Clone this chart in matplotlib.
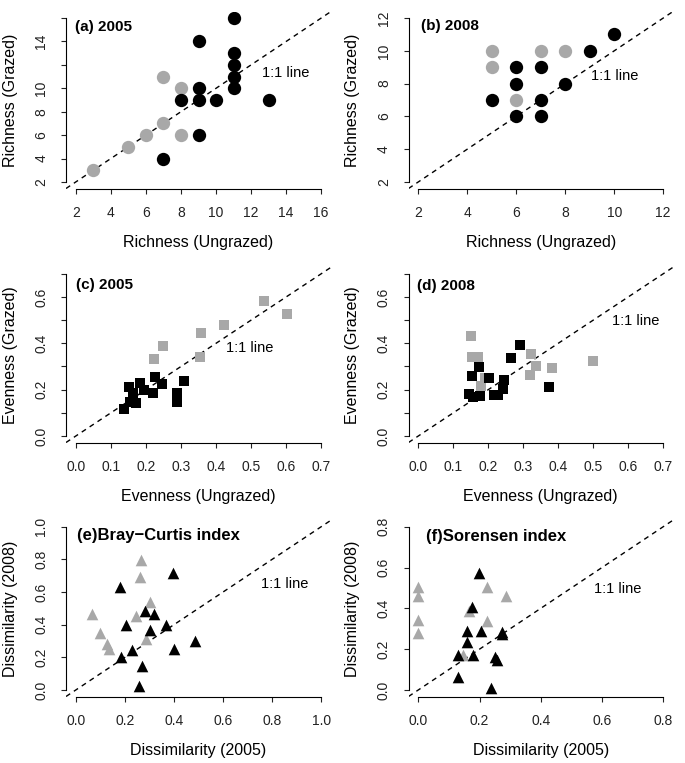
import numpy as np
import matplotlib
matplotlib.use("Agg")
import matplotlib.pyplot as plt

plt.rcParams['font.family'] = ['Liberation Sans', 'DejaVu Sans']

GRAY = '#a8a8a8'

# (a) richness 2005
a_black_x = [11, 9, 11, 11, 11, 11, 9, 8, 9, 10, 13, 9, 7]
a_black_y = [16, 14, 13, 12, 11, 10, 10, 9, 9, 9, 9, 6, 4]
a_gray_x = [7, 8, 7, 6, 8, 5, 3]
a_gray_y = [11, 10, 7, 6, 6, 5, 3]

# (b) richness 2008
b_black_x = [10, 9, 6, 7, 6, 8, 5, 7, 6, 7]
b_black_y = [11, 10, 9, 9, 8, 8, 7, 7, 6, 6]
b_gray_x = [5, 7, 8, 5, 6]
b_gray_y = [10, 10, 10, 9, 7]

# (c) evenness 2005
c_black_x = [0.309, 0.226, 0.245, 0.183, 0.152, 0.195, 0.219, 0.164, 0.288, 0.288, 0.156, 0.173, 0.138]
c_black_y = [0.237, 0.253, 0.223, 0.230, 0.213, 0.199, 0.184, 0.184, 0.184, 0.148, 0.148, 0.144, 0.115]
c_gray_x = [0.538, 0.602, 0.424, 0.357, 0.354, 0.250, 0.223]
c_gray_y = [0.584, 0.527, 0.479, 0.446, 0.340, 0.388, 0.331]

# (d) evenness 2008
d_black_x = [0.290, 0.265, 0.173, 0.153, 0.202, 0.245, 0.241, 0.229, 0.217, 0.146, 0.155, 0.177, 0.373]
d_black_y = [0.393, 0.336, 0.299, 0.257, 0.249, 0.242, 0.203, 0.179, 0.179, 0.182, 0.167, 0.171, 0.210]
d_gray_x = [0.150, 0.153, 0.170, 0.322, 0.336, 0.320, 0.381, 0.498, 0.191, 0.179]
d_gray_y = [0.432, 0.339, 0.339, 0.356, 0.304, 0.264, 0.293, 0.324, 0.250, 0.214]

# (e) Bray-Curtis dissimilarity
e_black_x = [0.396, 0.179, 0.281, 0.319, 0.206, 0.369, 0.304, 0.484, 0.231, 0.399, 0.186, 0.271, 0.258]
e_black_y = [0.718, 0.629, 0.486, 0.465, 0.398, 0.398, 0.367, 0.302, 0.245, 0.251, 0.204, 0.149, 0.024]
e_gray_x = [0.267, 0.261, 0.301, 0.064, 0.244, 0.098, 0.129, 0.136, 0.285]
e_gray_y = [0.796, 0.694, 0.541, 0.465, 0.453, 0.351, 0.282, 0.249, 0.314]

# (f) Sorensen dissimilarity
f_black_x = [0.199, 0.176, 0.158, 0.204, 0.272, 0.275, 0.158, 0.130, 0.179, 0.250, 0.258, 0.130, 0.237]
f_black_y = [0.575, 0.405, 0.291, 0.291, 0.286, 0.276, 0.237, 0.171, 0.171, 0.163, 0.147, 0.065, 0.008]
f_gray_x = [0.0, 0.0, 0.0, 0.0, 0.223, 0.286, 0.166, 0.223, 0.145]
f_gray_y = [0.503, 0.460, 0.343, 0.281, 0.506, 0.460, 0.388, 0.339, 0.171]

W, H = 685, 763
fig = plt.figure(figsize=(W / 100, H / 100), dpi=100)


def make_ax(left, top, right, bottom):
    return fig.add_axes([left / W, 1 - bottom / H, (right - left) / W, (bottom - top) / H])


def style(ax, lo, hi, xticks, yticks, xlabels, ylabels, xlab, ylab):
    pad = (hi - lo) * 0.04
    ax.set_xlim(lo - pad, hi + pad)
    ax.set_ylim(lo - pad, hi + pad)
    for s in ['top', 'right']:
        ax.spines[s].set_visible(False)
    ax.spines['left'].set_bounds(yticks[0], yticks[-1])
    ax.spines['bottom'].set_bounds(xticks[0], xticks[-1])
    for s in ['left', 'bottom']:
        ax.spines[s].set_linewidth(0.8)
    ax.set_xticks(xticks)
    ax.set_yticks(yticks)
    ax.set_xticklabels(xlabels)
    ax.set_yticklabels(ylabels, rotation=90, va='center')
    ax.tick_params(direction='out', length=3.6, width=0.8, labelsize=10, pad=9, colors='#222222')
    ax.set_xlabel(xlab, fontsize=11.5, labelpad=11)
    ax.set_ylabel(ylab, fontsize=11.5, labelpad=12)
    ax.axline((lo, lo), (hi, hi), color='black', lw=1, linestyle=(0, (3.6, 3.2)), zorder=1)


def pts(ax, bx, by, gx, gy, marker, s):
    ax.scatter(gx, gy, s=s, marker=marker, color=GRAY, linewidths=0, zorder=2)
    ax.scatter(bx, by, s=s, marker=marker, color='black', linewidths=0, zorder=3)


L0, L1 = 66, 331
R0, R1 = 408.5, 673

# (a)
ax = make_ax(L0, 11.5, L1, 188.5)
ticks = list(range(2, 17, 2))
style(ax, 2, 16, ticks, ticks, [str(t) for t in ticks],
      ['2', '4', '6', '8', '10', '', '14', ''], 'Richness (Ungrazed)', 'Richness (Grazed)')
pts(ax, a_black_x, a_black_y, a_gray_x, a_gray_y, 'o', 92)
ax.text(1.95, 15.2, '(a) 2005', fontsize=11, fontweight='bold', va='center')
ax.text(14.0, 11.3, '1:1 line', fontsize=10.5, ha='center', va='center')

# (b)
ax = make_ax(R0, 11.5, R1, 188.5)
ticks = list(range(2, 13, 2))
style(ax, 2, 12, ticks, ticks, [str(t) for t in ticks], [str(t) for t in ticks],
      'Richness (Ungrazed)', 'Richness (Grazed)')
pts(ax, b_black_x, b_black_y, b_gray_x, b_gray_y, 'o', 92)
ax.text(2.1, 11.5, '(b) 2008', fontsize=11, fontweight='bold', va='center')
ax.text(10.0, 8.45, '1:1 line', fontsize=10.5, ha='center', va='center')

# (c)
ev_ticks = [round(0.1 * i, 1) for i in range(8)]
ev_y = ['0.0', '', '0.2', '', '0.4', '', '0.6', '']
ax = make_ax(L0, 267.3, L1, 442.5)
style(ax, 0, 0.7, ev_ticks, ev_ticks, ['%.1f' % t for t in ev_ticks], ev_y,
      'Evenness (Ungrazed)', 'Evenness (Grazed)')
pts(ax, c_black_x, c_black_y, c_gray_x, c_gray_y, 's', 50)
ax.text(0.0, 0.652, '(c) 2005', fontsize=11, fontweight='bold', va='center')
ax.text(0.497, 0.379, '1:1 line', fontsize=10.5, ha='center', va='center')

# (d)
ax = make_ax(R0, 267.3, R1, 442.5)
style(ax, 0, 0.7, ev_ticks, ev_ticks, ['%.1f' % t for t in ev_ticks], ev_y,
      'Evenness (Ungrazed)', 'Evenness (Grazed)')
pts(ax, d_black_x, d_black_y, d_gray_x, d_gray_y, 's', 50)
ax.text(-0.005, 0.646, '(d) 2008', fontsize=11, fontweight='bold', va='center')
ax.text(0.621, 0.496, '1:1 line', fontsize=10.5, ha='center', va='center')

# (e)
e_ticks = [round(0.2 * i, 1) for i in range(6)]
ax = make_ax(L0, 520.2, L1, 696.5)
style(ax, 0, 1.0, e_ticks, e_ticks, ['%.1f' % t for t in e_ticks], ['%.1f' % t for t in e_ticks],
      'Dissimilarity (2005)', 'Dissimilarity (2008)')
pts(ax, e_black_x, e_black_y, e_gray_x, e_gray_y, '^', 70)
ax.text(0.003, 0.949, '(e)Bray\u2212Curtis index', fontsize=12, fontweight='bold', va='center')
ax.text(0.851, 0.649, '1:1 line', fontsize=10.5, ha='center', va='center')

# (f)
f_ticks = [round(0.2 * i, 1) for i in range(5)]
ax = make_ax(R0, 520.2, R1, 696.5)
style(ax, 0, 0.8, f_ticks, f_ticks, ['%.1f' % t for t in f_ticks], ['%.1f' % t for t in f_ticks],
      'Dissimilarity (2005)', 'Dissimilarity (2008)')
pts(ax, f_black_x, f_black_y, f_gray_x, f_gray_y, '^', 70)
ax.text(0.025, 0.751, '(f)Sorensen index', fontsize=12, fontweight='bold', va='center')
ax.text(0.650, 0.493, '1:1 line', fontsize=10.5, ha='center', va='center')

fig.savefig('out.png', dpi=100)
